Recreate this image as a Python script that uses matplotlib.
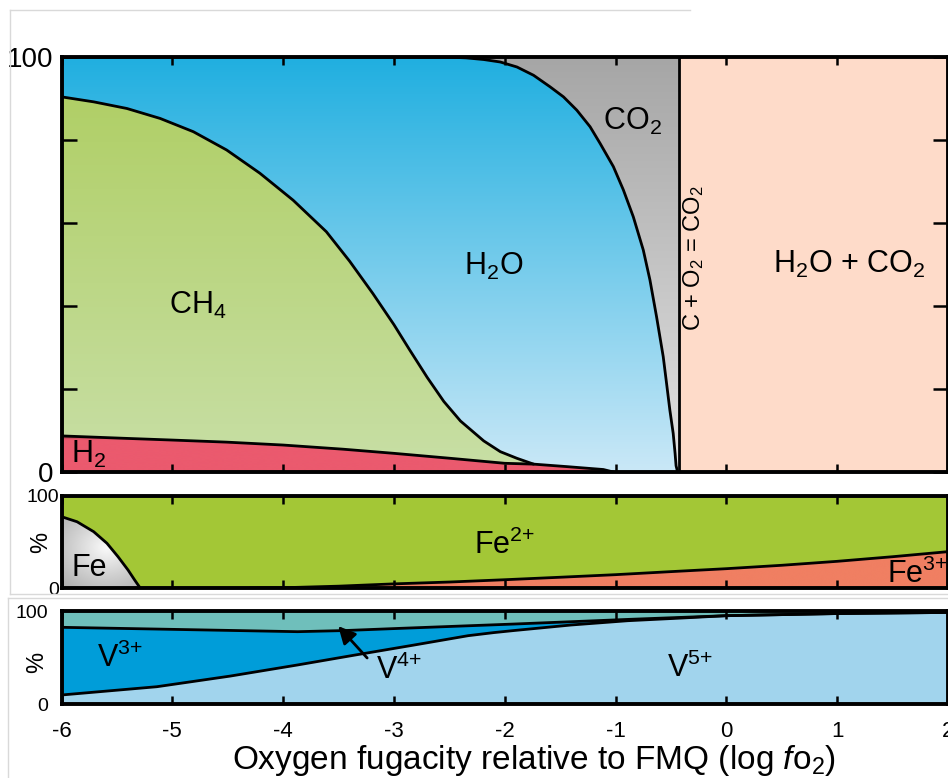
import numpy as np
import matplotlib
matplotlib.use('Agg')
import matplotlib.pyplot as plt
from matplotlib.colors import LinearSegmentedColormap
from matplotlib.lines import Line2D

plt.rcParams['font.family'] = ['Liberation Sans', 'DejaVu Sans']
plt.rcParams['mathtext.fontset'] = 'custom'
plt.rcParams['mathtext.rm'] = 'Liberation Sans'
plt.rcParams['mathtext.it'] = 'Liberation Sans:italic'
plt.rcParams['axes.unicode_minus'] = False

# --- C-O-H fluid (cumulative %), x = log fO2 relative to FMQ
h2_x = [-6.0, -5.41, -5.0, -4.51, -4.0, -3.46, -3.0, -2.49, -2.0, -1.74, -1.44, -1.11, -1.02]
h2_v = [8.7, 8.1, 7.7, 7.2, 6.5, 5.5, 4.5, 3.3, 2.1, 1.9, 1.3, 0.6, 0.0]

ch4_x = [-6.0, -5.71, -5.41, -5.11, -4.81, -4.51, -4.21, -3.91, -3.61, -3.40,
         -3.19, -3.0, -2.86, -2.70, -2.55, -2.40, -2.19, -2.04, -1.89, -1.74]
ch4_v = [90.4, 89.2, 87.6, 85.2, 82.0, 77.6, 72.0, 65.5, 57.9, 50.8,
         43.0, 35.5, 29.5, 22.8, 17.0, 12.3, 7.5, 4.9, 3.3, 1.9]

h2o_x = [-6.0, -2.7, -2.49, -2.35, -2.19, -2.04, -1.89, -1.74, -1.59, -1.47, -1.35, -1.23, -1.14,
         -1.02, -0.93, -0.84, -0.75, -0.69, -0.63, -0.57, -0.54, -0.51, -0.48, -0.463, -0.454, -0.44]
h2o_v = [100, 100, 99.95, 99.8, 99.4, 98.8, 97.6, 95.6, 92.8, 90.4, 87.2, 83.2, 79.2,
         73.6, 68.0, 61.5, 53.5, 46.3, 37.4, 27.8, 21.4, 14.9, 9.3, 4.5, 1.5, 0.0]

c_o2 = -0.43   # C + O2 = CO2

# --- iron speciation
fe_x = [-6.0, -5.86, -5.71, -5.59, -5.49, -5.40, -5.34, -5.29]
fe_v = [77.5, 72.0, 61.2, 48.6, 34.0, 19.6, 8.7, 0.0]
fe3_x = [-4.3, -4.0, -3.5, -3.0, -2.5, -2.0, -1.5, -1.0, -0.5, 0.0, 0.5, 1.0, 1.5, 2.0]
fe3_v = [0.0, 0.3, 2.0, 4.5, 6.5, 9.0, 11.7, 14.5, 17.8, 21.0, 24.7, 29.0, 34.0, 39.5]

# --- vanadium speciation
v5_x = [-6.0, -5.14, -4.48, -3.87, -3.35, -2.84, -2.33, -2.1, -1.92, -1.40, -0.89, -0.4, 0.0, 1.0, 2.0]
v5_v = [9.7, 18.6, 30.0, 42.0, 52.7, 63.0, 73.5, 76.8, 79.0, 85.0, 89.6, 92.5, 95.0, 97.3, 98.5]
v3_x = [-6.0, -5.0, -3.87, -3.45, -2.94, -1.92, -0.89, -0.4, 0.0, 1.0, 2.0]
v3_v = [82.5, 80.3, 77.8, 79.0, 81.4, 86.0, 91.0, 93.2, 95.0, 97.3, 98.5]

xticks = [-6, -5, -4, -3, -2, -1, 0, 1, 2]
XMIN, XMAX = -6, 2.0


def gradient_fill(ax, xs, ys, colors, extent, horizontal=False):
    poly, = ax.fill(xs, ys, facecolor='none', edgecolor='none', zorder=1)
    cmap = LinearSegmentedColormap.from_list('g', colors)
    ramp = np.linspace(0, 1, 256)
    ramp = ramp.reshape(1, -1) if horizontal else ramp.reshape(-1, 1)
    im = ax.imshow(ramp, cmap=cmap, extent=extent, origin='lower',
                   aspect='auto', interpolation='bicubic', zorder=1)
    im.set_clip_path(poly)


def style(ax, ylabel_pad, ytick_len):
    ax.set_xlim(XMIN, XMAX)
    ax.set_ylim(0, 100)
    for s in ax.spines.values():
        s.set_linewidth(2.8)
        s.set_zorder(5)
    ax.set_xticks(xticks)
    ax.tick_params(axis='x', direction='in', length=6, width=1.8,
                   top=True, bottom=True, labelbottom=False)
    ax.tick_params(axis='y', direction='in', length=ytick_len, width=1.8,
                   left=True, right=True, labelsize=14, pad=ylabel_pad)


fig = plt.figure(figsize=(9.48, 7.78), dpi=100)
ax1 = fig.add_axes([0.0649, 0.3933, 0.9351, 0.5334])
ax2 = fig.add_axes([0.0649, 0.2442, 0.9351, 0.1183])
ax3 = fig.add_axes([0.0649, 0.0951, 0.9351, 0.1195])

lw = 2.0
line_kw = dict(color='black', lw=lw, zorder=3, solid_joinstyle='round', solid_capstyle='round')

# ---------------- top: fluid species
ax1.axvspan(c_o2, XMAX + 0.2, color='#fedbc9', lw=0, zorder=1)

gradient_fill(ax1, h2_x + [-6.0], h2_v + [0.0],
              [(0, '#eb5a6e'), (0.86, '#eb5a6e'), (1, '#3a1c20')], [-6, -1.0, 0, 9])

ch4_low = [(x, v) for x, v in zip(h2_x, h2_v) if x <= ch4_x[-1]][::-1]
gradient_fill(ax1, ch4_x + [p[0] for p in ch4_low], ch4_v + [p[1] for p in ch4_low],
              ['#c8dfa6', '#b0cf66'], [-6, -1.7, 0, 91])

low_x = ch4_x + [x for x in h2_x if x > ch4_x[-1]]
low_v = ch4_v + [v for x, v in zip(h2_x, h2_v) if x > ch4_x[-1]]
gradient_fill(ax1, h2o_x + low_x[::-1], h2o_v + low_v[::-1],
              ['#cae8f7', '#20afe0'], [-6, c_o2, 0, 100])

gradient_fill(ax1, h2o_x + [c_o2, c_o2], h2o_v + [0, 100],
              ['#e2e2e2', '#a6a6a6'], [-6, c_o2, 0, 100])

ax1.plot(h2_x, h2_v, **line_kw)
ax1.plot(ch4_x, ch4_v, **line_kw)
ax1.plot(h2o_x, h2o_v, **line_kw)
ax1.plot([c_o2, c_o2], [0, 100], **line_kw)

style(ax1, 6, 11)
ax1.set_yticks([0, 20, 40, 60, 80, 100])
ax1.set_yticklabels(['0', '', '', '', '', '100'], fontsize=20)

fs = 22
ax1.text(-4.77, 40.2, 'CH$_4$', fontsize=fs, ha='center', va='center', zorder=4)
ax1.text(-2.10, 49.5, 'H$_2$O', fontsize=fs, ha='center', va='center', zorder=4)
ax1.text(-0.85, 84.4, 'CO$_2$', fontsize=fs, ha='center', va='center', zorder=4)
ax1.text(1.11, 49.9, 'H$_2$O + CO$_2$', fontsize=fs, ha='center', va='center', zorder=4)
ax1.text(-0.30, 51.5, 'C + O$_2$ = CO$_2$', fontsize=17, rotation=90,
         ha='center', va='center', zorder=4)
ax1.text(-5.91, 4.3, 'H$_2$', fontsize=fs, ha='left', va='center', zorder=4)

# ---------------- middle: iron
ax2.set_facecolor('#a3c736')
fe_poly, = ax2.fill(fe_x + [-6.0], fe_v + [0.0], facecolor='none', edgecolor='none', zorder=1)
gx, gy = np.meshgrid(np.linspace(-6, -5.29, 200), np.linspace(0, 78, 200))
rad = np.hypot((gx + 5.6) / 0.45, (gy - 44) / 45)
fe_im = ax2.imshow(rad, cmap=LinearSegmentedColormap.from_list('fe', ['#fafafa', '#d2d2d2', '#adadad']),
                   extent=[-6, -5.29, 0, 78], origin='lower', aspect='auto', vmin=0, vmax=1.3, zorder=1)
fe_im.set_clip_path(fe_poly)

gradient_fill(ax2, fe3_x + [2.0], fe3_v + [0.0],
              [(0, '#1e1410'), (0.15, '#f07f62'), (1, '#f07f62')], [-4.3, 2.0, 0, 40], horizontal=True)

ax2.plot(fe_x, fe_v, **line_kw)
ax2.plot(fe3_x, fe3_v, **line_kw)

style(ax2, 2, 0)
ax2.set_yticks([0, 100])
ax2.set_yticklabels(['0', '100'], fontsize=14)
ax2.text(-0.023, 0.49, '%', fontsize=17, rotation=90, ha='center', va='center',
         transform=ax2.transAxes)

ax2.text(-5.91, 21.4, 'Fe', fontsize=fs, ha='left', va='center', zorder=4)
ax2.text(-2.0, 46, 'Fe$^{2{+}}$', fontsize=fs, ha='center', va='center', zorder=4)
ax2.text(1.45, 15, 'Fe$^{3{+}}$', fontsize=fs, ha='left', va='center', zorder=4)

# ---------------- bottom: vanadium
ax3.set_facecolor('#6fbfbb')
ax3.fill(v3_x + [2.0, -6.0], v3_v + [0, 0], color='#009dd9', lw=0, zorder=1)
ax3.fill(v5_x + [2.0, -6.0], v5_v + [0, 0], color='#a1d4ed', lw=0, zorder=1)
ax3.plot(v3_x, v3_v, **line_kw)
ax3.plot(v5_x, v5_v, **line_kw)

style(ax3, 10, 0)
ax3.set_yticks([0, 100])
ax3.set_yticklabels(['0', '100'], fontsize=14)
ax3.tick_params(axis='x', labelbottom=True, labelsize=16, pad=12)
ax3.set_xticklabels([str(t) for t in xticks])
ax3.text(-0.027, 0.45, '%', fontsize=17, rotation=90, ha='center', va='center',
         transform=ax3.transAxes)

ax3.text(-5.68, 49, 'V$^{3{+}}$', fontsize=fs, ha='left', va='center', zorder=4)
ax3.text(-3.16, 36.6, 'V$^{4{+}}$', fontsize=fs, ha='left', va='center', zorder=4)
ax3.text(-0.54, 38.4, 'V$^{5{+}}$', fontsize=fs, ha='left', va='center', zorder=4)
ax3.annotate('', xy=(-3.52, 86), xytext=(-3.225, 47.3),
             arrowprops=dict(arrowstyle='-|>', color='black', lw=2, mutation_scale=26),
             zorder=4)

fig.text(534 / 948, 1 - 769 / 778, 'Oxygen fugacity relative to FMQ (log $\\mathit{f}$o$_2$)',
         fontsize=24, ha='center', va='baseline')

# light panel frames
frame = '#d9d9d9'
fig.add_artist(Line2D([10 / 948, 690 / 948], [1 - 10 / 778] * 2, color=frame, lw=1))
fig.add_artist(Line2D([10 / 948] * 2, [1 - 10 / 778, 1 - 594 / 778], color=frame, lw=1))
fig.add_artist(Line2D([10 / 948, 1], [1 - 594 / 778] * 2, color=frame, lw=1))
fig.add_artist(Line2D([8 / 948, 1], [1 - 598 / 778] * 2, color=frame, lw=1))
fig.add_artist(Line2D([8 / 948] * 2, [1 - 598 / 778, 0], color=frame, lw=1))

fig.savefig('out.png', dpi=100)
